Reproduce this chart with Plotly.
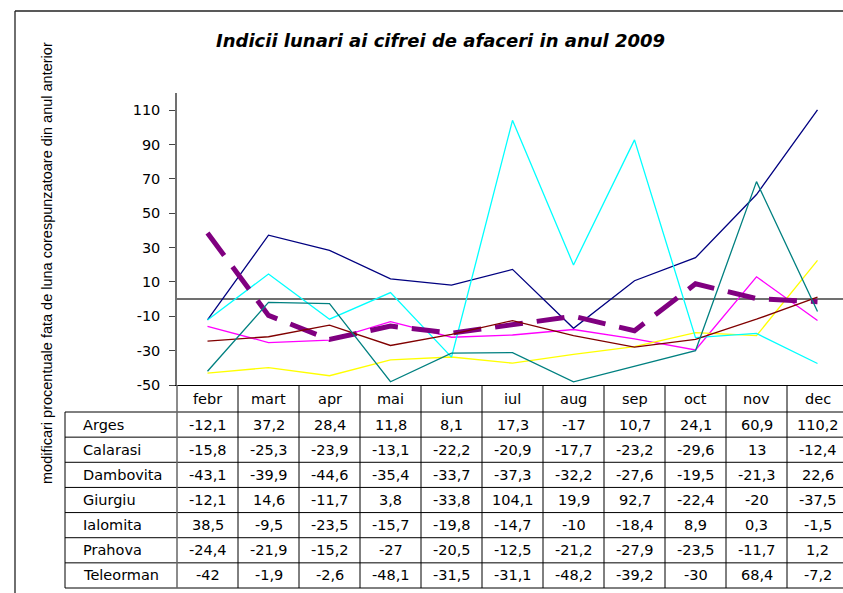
import plotly.graph_objects as go

# ---------------- data ----------------
months = ["febr", "mart", "apr", "mai", "iun", "iul", "aug", "sep", "oct", "nov", "dec"]
arges = [-12.1, 37.2, 28.4, 11.8, 8.1, 17.3, -17, 10.7, 24.1, 60.9, 110.2]
calarasi = [-15.8, -25.3, -23.9, -13.1, -22.2, -20.9, -17.7, -23.2, -29.6, 13, -12.4]
dambovita = [-43.1, -39.9, -44.6, -35.4, -33.7, -37.3, -32.2, -27.6, -19.5, -21.3, 22.6]
giurgiu = [-12.1, 14.6, -11.7, 3.8, -33.8, 104.1, 19.9, 92.7, -22.4, -20, -37.5]
ialomita = [38.5, -9.5, -23.5, -15.7, -19.8, -14.7, -10, -18.4, 8.9, 0.3, -1.5]
prahova = [-24.4, -21.9, -15.2, -27, -20.5, -12.5, -21.2, -27.9, -23.5, -11.7, 1.2]
teleorman = [-42, -1.9, -2.6, -48.1, -31.5, -31.1, -48.2, -39.2, -30, 68.4, -7.2]

series_names = ["Arges", "Calarasi", "Dambovita", "Giurgiu", "Ialomita", "Prahova", "Teleorman"]
series_values = [arges, calarasi, dambovita, giurgiu, ialomita, prahova, teleorman]
y_ticks = [-50, -30, -10, 10, 30, 50, 70, 90, 110]

title_text = "Indicii lunari ai cifrei de afaceri in anul 2009"
ytitle_text = "modificari procentuale fata de luna corespunzatoare din anul anterior"

# ---------------- styles ----------------
styles = {
    "Arges": dict(color="#000080", width=1.3),
    "Calarasi": dict(color="#FF00FF", width=1.3),
    "Dambovita": dict(color="#FFFF00", width=1.3),
    "Giurgiu": dict(color="#00FFFF", width=1.3),
    "Ialomita": dict(color="#800080", width=5, dash="28px,14px"),
    "Prahova": dict(color="#800000", width=1.3),
    "Teleorman": dict(color="#008080", width=1.3),
}

W, H = 843, 593
L, R, T, B = 177, 843, 93, 385
COLW = 61.0

def pxp(px):
    return (px - L) / (R - L)

def pyp(py):
    return (B - py) / (B - T)

def fmt(v):
    return ("%g" % v).replace(".", ",")

fig = go.Figure()
for name, vals in zip(series_names, series_values):
    fig.add_trace(go.Scatter(x=months, y=vals, mode="lines", name=name,
                             line=styles[name], showlegend=False, hoverinfo="x+y+name"))

tfont = dict(family="DejaVu Sans", size=14.5, color="black")

annotations = []
shapes = []

# title & y title
annotations.append(dict(text="<b><i>" + title_text + "</i></b>", xref="paper", yref="paper",
                        x=pxp(440), y=pyp(41), xanchor="center", yanchor="middle", showarrow=False,
                        font=dict(family="DejaVu Sans", size=18, color="black")))
annotations.append(dict(text=ytitle_text, xref="paper", yref="paper", x=pxp(47), y=pyp(263),
                        xanchor="center", yanchor="middle",
                        textangle=-90, showarrow=False,
                        font=dict(family="Liberation Sans", size=14.5, color="black")))

# table geometry
header_top, header_bot = 385, 412
row_h = (588 - 412) / 7.0
table_left = 65

for m in months:
    annotations.append(dict(text=m, xref="x", yref="paper", x=m, y=pyp((header_top + header_bot) / 2),
                            showarrow=False, font=tfont, xanchor="center", yanchor="middle"))
for r, (name, vals) in enumerate(zip(series_names, series_values)):
    cy = pyp(header_bot + row_h * (r + 0.5))
    annotations.append(dict(text=name, xref="paper", yref="paper", x=pxp(81), y=cy,
                            showarrow=False, font=tfont, xanchor="left", yanchor="middle"))
    for m, v in zip(months, vals):
        annotations.append(dict(text=fmt(v), xref="x", yref="paper", x=m, y=cy,
                                showarrow=False, font=tfont, xanchor="center", yanchor="middle"))

lc = dict(color="black", width=1)
for k in range(8):
    yy = pyp(header_bot + row_h * k)
    shapes.append(dict(type="line", xref="paper", yref="paper", x0=pxp(table_left), x1=1.02,
                       y0=yy, y1=yy, line=lc))
shapes.append(dict(type="line", xref="paper", yref="paper", x0=pxp(table_left), x1=pxp(table_left),
                   y0=pyp(header_bot), y1=pyp(588), line=lc))
shapes.append(dict(type="line", xref="paper", yref="paper", x0=0, x1=0,
                   y0=pyp(header_top), y1=pyp(588), line=dict(color="#666666", width=1.5)))
for i in range(1, len(months) + 1):
    shapes.append(dict(type="line", xref="x", yref="paper", x0=i - 0.5, x1=i - 0.5,
                       y0=pyp(header_top), y1=pyp(588), line=lc))
# chart border (top & left)
shapes.append(dict(type="line", xref="paper", yref="paper", x0=pxp(15), x1=pxp(15),
                   y0=pyp(11), y1=pyp(600), line=dict(color="#222222", width=1.3)))
shapes.append(dict(type="line", xref="paper", yref="paper", x0=pxp(15), x1=1.02,
                   y0=pyp(11), y1=pyp(11), line=dict(color="#222222", width=1.3)))

fig.update_layout(
    width=W, height=H,
    margin=dict(l=L, r=W - R, t=T, b=H - B, pad=0),
    paper_bgcolor="white", plot_bgcolor="white",
    showlegend=False,
    annotations=annotations,
    shapes=shapes,
    xaxis=dict(type="category", range=[-0.5, -0.5 + (R - L) / COLW], showticklabels=False,
               ticks="", showgrid=False, zeroline=False, showline=True, linecolor="black",
               linewidth=1.3, fixedrange=True),
    yaxis=dict(range=[-50, 120], tickvals=y_ticks, ticktext=[str(t) for t in y_ticks],
               ticks="outside", ticklen=6, tickcolor="#444444", tickwidth=1,
               ticklabelstandoff=6,
               showgrid=False, zeroline=True, zerolinecolor="#707070", zerolinewidth=1.5,
               showline=True, linecolor="#707070", linewidth=1.5,
               tickfont=dict(family="DejaVu Sans", size=14.5, color="black"), fixedrange=True),
)

fig.write_html("out.html", config={"displayModeBar": False},
               post_script="document.body.style.margin='0';document.body.style.overflow='hidden';")
